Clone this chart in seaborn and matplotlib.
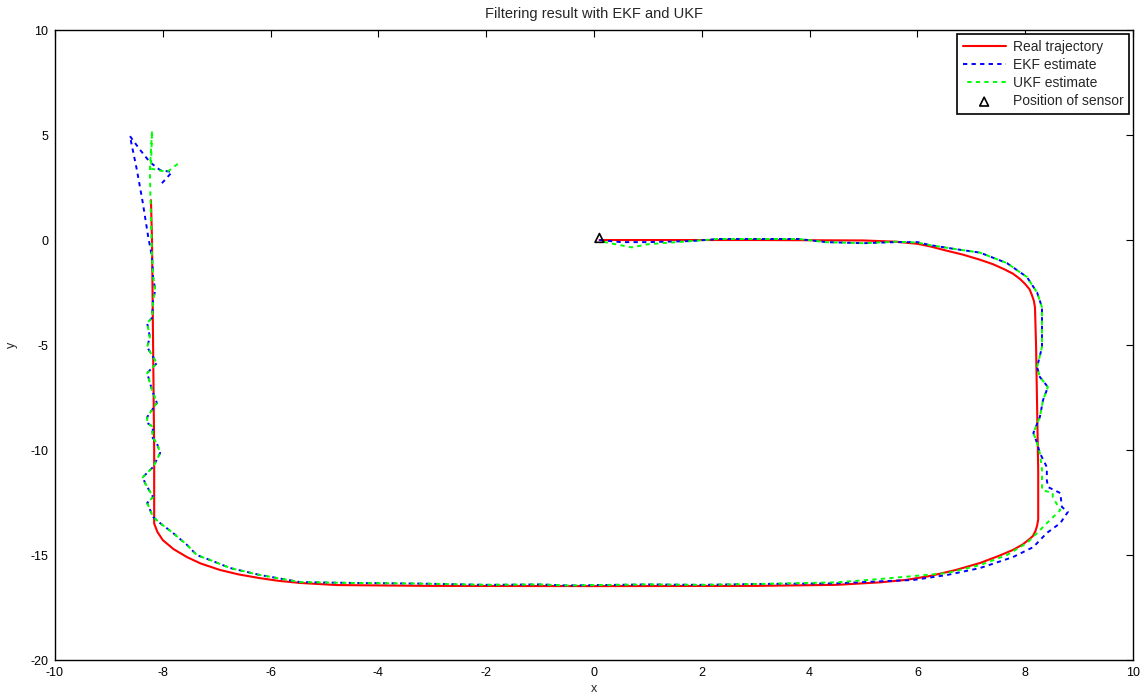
import matplotlib
matplotlib.use("Agg")
import matplotlib.pyplot as plt
import seaborn as sns
import pandas as pd

# ---------------- data ----------------
true_x = [0.1, 3.0, 5.0, 5.6, 6.0, 6.23, 6.5, 6.85, 7.15, 7.4, 7.6, 7.77, 7.9, 8.0, 8.08, 8.12, 8.16,
          8.18, 8.2, 8.22, 8.24, 8.24, 8.22, 8.19, 8.14, 8.05, 7.95, 7.77, 7.5, 7.16, 6.7, 6.23, 5.8,
          5.31, 4.5, 3.0, 0.0, -3.0, -4.77, -5.45, -5.85, -6.2, -6.6, -6.94, -7.3, -7.55, -7.8,
          -8.0, -8.1, -8.16, -8.16, -8.18, -8.2, -8.22]
true_y = [0.0, 0.0, -0.02, -0.08, -0.18, -0.3, -0.48, -0.7, -0.93, -1.15, -1.38, -1.6, -1.85, -2.1,
          -2.35, -2.6, -2.9, -3.2, -5.0, -8.0, -11.0, -13.3, -13.6, -13.85, -14.1, -14.3, -14.5,
          -14.76, -15.05, -15.38, -15.72, -16.0, -16.18, -16.3, -16.42, -16.47, -16.48, -16.47,
          -16.43, -16.33, -16.23, -16.1, -15.92, -15.71, -15.4, -15.1, -14.72, -14.29, -13.9, -13.5,
          -10.0, -5.0, 0.0, 1.9]

ekf_x = [0.1, 0.5, 1.0, 1.8, 2.3, 3.0, 3.8, 4.3, 5.0, 5.6, 6.0, 6.23, 6.7, 7.16, 7.66, 8.03, 8.22,
         8.31, 8.31, 8.31, 8.22, 8.27, 8.42, 8.33, 8.27, 8.15, 8.22, 8.27, 8.40, 8.40, 8.42, 8.65,
         8.68, 8.79, 8.65, 8.40, 8.15, 7.77, 7.16, 6.55, 5.92, 5.31, 4.5, 3.0, 2.0, 1.0, -0.5, -1.0,
         -2.0, -3.23, -4.47, -5.45, -6.2, -6.75, -7.12, -7.37, -7.55, -7.81, -8.05, -8.18, -8.29,
         -8.18, -8.33, -8.37, -8.18, -8.05, -8.11, -8.2, -8.18, -8.29, -8.29, -8.11, -8.2, -8.29,
         -8.11, -8.18, -8.29, -8.24, -8.29, -8.2, -8.18, -8.14, -8.18, -8.2, -8.27, -8.37, -8.48,
         -8.61, -8.42, -8.24, -8.05, -7.83, -7.96, -8.05]
ekf_y = [0.0, -0.1, -0.1, -0.05, 0.05, 0.05, 0.05, -0.1, -0.15, -0.1, -0.1, -0.24, -0.43, -0.6,
         -1.1, -1.76, -2.5, -3.2, -4.14, -5.1, -6.05, -6.52, -7.0, -7.62, -8.43, -9.19, -9.67,
         -10.14, -10.81, -11.43, -11.76, -12.05, -12.71, -12.95, -13.48, -13.95, -14.62, -15.1,
         -15.62, -15.95, -16.19, -16.25, -16.35, -16.38, -16.42, -16.4, -16.45, -16.4, -16.42,
         -16.36, -16.33, -16.29, -15.95, -15.62, -15.24, -15.0, -14.52, -13.95, -13.48, -13.19,
         -12.52, -12.24, -11.57, -11.29, -10.81, -10.14, -9.67, -9.38, -8.9, -8.71, -8.43, -7.76,
         -7.14, -6.33, -5.86, -5.57, -5.1, -4.62, -3.95, -3.71, -2.86, -2.38, -1.76, -0.8, 0.14,
         1.76, 3.33, 4.95, 4.29, 3.71, 3.33, 3.24, 2.86, 2.62]

ukf_x = [0.1, 0.4, 0.7, 1.0, 1.8, 2.3, 3.0, 3.8, 4.3, 5.0, 5.6, 6.0, 6.23, 6.7, 7.16, 7.66, 8.03,
         8.22, 8.31, 8.31, 8.31, 8.22, 8.27, 8.42, 8.33, 8.27, 8.15, 8.22, 8.27, 8.31, 8.31, 8.51,
         8.51, 8.65, 8.46, 8.22, 8.03, 7.66, 7.16, 6.55, 5.31, 4.5, 3.0, 2.0, 1.0, -0.5, -1.0,
         -2.0, -3.23, -4.47, -5.45, -6.2, -6.75, -7.12, -7.37, -7.55, -7.81, -8.05, -8.18, -8.29,
         -8.18, -8.33, -8.37, -8.18, -8.05, -8.11, -8.2, -8.18, -8.29, -8.29, -8.11, -8.2, -8.29,
         -8.11, -8.18, -8.29, -8.24, -8.29, -8.2, -8.18, -8.14, -8.18, -8.2, -8.22, -8.24, -8.2,
         -8.22, -7.92, -7.68]
ukf_y = [-0.05, -0.2, -0.35, -0.2, -0.05, 0.05, 0.05, 0.05, -0.1, -0.15, -0.08, -0.12, -0.24,
         -0.43, -0.6, -1.1, -1.76, -2.5, -3.2, -4.14, -5.1, -6.05, -6.52, -7.0, -7.62, -8.43, -9.19,
         -9.67, -10.14, -10.95, -11.9, -12.05, -12.24, -12.86, -13.33, -13.95, -14.43, -15.0,
         -15.48, -15.86, -16.14, -16.3, -16.38, -16.42, -16.4, -16.45, -16.4, -16.42, -16.36,
         -16.33, -16.29, -15.95, -15.62, -15.24, -15.0, -14.52, -13.95, -13.48, -13.19, -12.52,
         -12.24, -11.57, -11.29, -10.81, -10.14, -9.67, -9.38, -8.9, -8.71, -8.43, -7.76, -7.14,
         -6.33, -5.86, -5.57, -5.1, -4.62, -3.95, -3.71, -2.86, -2.38, -1.76, -0.8, 1.0, 3.3,
         5.2, 3.4, 3.24, 3.71]

sensor_x = [0.1]
sensor_y = [0.1]

labels = ["Real trajectory", "EKF estimate", "UKF estimate", "Position of sensor"]
x_ticks = [-10, -8, -6, -4, -2, 0, 2, 4, 6, 8, 10]
y_ticks = [-20, -15, -10, -5, 0, 5, 10]

# ---------------- plotting ----------------
sns.set_style("white")
plt.rcParams["font.family"] = ["Liberation Sans", "DejaVu Sans"]
plt.rcParams["axes.unicode_minus"] = False

fig = plt.figure(figsize=(11.48, 7.0), dpi=100)
ax = fig.add_axes([0.0479, 0.0571, 0.9391, 0.9])

df_true = pd.DataFrame({"x": true_x, "y": true_y})
df_ekf = pd.DataFrame({"x": ekf_x, "y": ekf_y})
df_ukf = pd.DataFrame({"x": ukf_x, "y": ukf_y})
df_sensor = pd.DataFrame({"x": sensor_x, "y": sensor_y})

sns.lineplot(data=df_true, x="x", y="y", sort=False, estimator=None, ax=ax,
             color="red", linewidth=1.5, label=labels[0])
sns.lineplot(data=df_ekf, x="x", y="y", sort=False, estimator=None, ax=ax,
             color="blue", linewidth=1.4, linestyle=(0, (2.2, 2.2)), label=labels[1])
sns.lineplot(data=df_ukf, x="x", y="y", sort=False, estimator=None, ax=ax,
             color="#00ff00", linewidth=1.4, linestyle=(2.2, (2.2, 2.2)), label=labels[2])
sns.scatterplot(data=df_sensor, x="x", y="y", ax=ax, marker="^", s=40,
                facecolor="none", edgecolor="black", linewidth=1.2, label=labels[3], zorder=5)

ax.set_xlim(-10, 10)
ax.set_ylim(-20, 10)
ax.set_xticks(x_ticks)
ax.set_yticks(y_ticks)
ax.tick_params(direction="in", length=5, width=0.8, top=True, right=True, labelsize=9,
               colors="black", pad=5)
for s in ax.spines.values():
    s.set_visible(True)
    s.set_color("black")
    s.set_linewidth(1.0)

ax.set_xlabel("x", fontsize=9, labelpad=3)
ax.set_ylabel("y", fontsize=9, labelpad=9)
ax.set_title("Filtering result with EKF and UKF", fontsize=10.5, pad=9)

leg = ax.legend(loc="upper right", fontsize=10, frameon=True, fancybox=False,
                edgecolor="black", framealpha=1, handlelength=3.1, borderpad=0.4,
                labelspacing=0.3, handletextpad=0.5, borderaxespad=0.3)
leg.get_frame().set_linewidth(1.2)

fig.savefig("out.png", dpi=100)
